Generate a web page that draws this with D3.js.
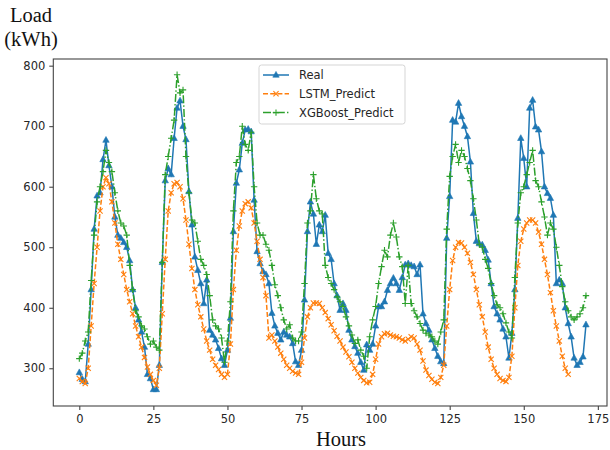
<!DOCTYPE html>
<html>
<head>
<meta charset="utf-8">
<script src="https://cdn.jsdelivr.net/npm/d3@7"></script>
<style>
  body { margin: 0; background: #fff; }
  .tick text { font-family: "DejaVu Sans", sans-serif; font-size: 11.5px; fill: #262626; }
  .tick line { stroke: #333; }
</style>
</head>
<body>
<svg id="chart"></svg>
<script>
// hourly load readings, index = hour
const realLoad = [
  293, 282, 278, 340, 430, 530, 585, 590, 645, 677,
  635, 600, 550, 520, 515, 508, 500, 478, 430, 400,
  380, 360, 335, 290, 283, 265, 265, 305, 475, 610,
  630, 620, 680, 730, 742, 700, 678, 592, 537, 484,
  462, 440, 407, 446, 363, 355, 347, 333, 316, 305,
  330, 383, 526, 606, 628, 672, 694, 695, 691, 578,
  493, 473, 460, 455, 440, 391, 370, 358, 347, 360,
  355, 352, 341, 311, 305, 330, 413, 526, 575, 555,
  505, 537, 526, 553, 490, 480, 440, 420, 396, 407,
  396, 363, 347, 336, 325, 310, 297, 339, 330, 340,
  370, 402, 402, 410, 429, 440, 449, 440, 429, 450,
  471, 473, 470, 468, 455, 471, 390, 374, 363, 347,
  333, 320, 311, 308, 515, 584, 710, 707, 738, 716,
  700, 683, 641, 556, 510, 506, 504, 495, 479, 440,
  402, 390, 380, 365, 352, 317, 358, 430, 548, 680,
  647, 600, 730, 743, 699, 694, 658, 600, 589, 581,
  553, 440, 446, 440, 400, 374, 352, 317, 305, 310,
  319, 372
];

const lstmLoad = [
  283, 278, 275, 300, 370, 440, 500, 560, 600, 615,
  605, 575, 540, 505, 480, 455, 430, 410, 390, 370,
  352, 335, 318, 302, 290, 280, 272, 300, 390, 480,
  560, 590, 605, 607, 600, 580, 545, 505, 465, 430,
  405, 385, 365, 345, 330, 315, 305, 298, 290, 285,
  290, 340, 430, 495, 535, 560, 572, 575, 565, 540,
  510, 480, 450, 420, 350, 355, 345, 335, 325, 315,
  305, 300, 295, 292, 290, 310, 350, 385, 400, 408,
  408, 407, 400, 392, 382, 372, 362, 353, 345, 335,
  327, 319, 310, 300, 292, 285, 280, 276, 277, 290,
  315, 340, 352, 357, 358, 355, 353, 352, 350, 347,
  345, 348, 352, 350, 340, 330, 312, 297, 288, 282,
  277, 275, 285, 305, 370, 430, 478, 500, 508, 507,
  500, 490, 475, 455, 430, 405, 385, 360, 335, 315,
  300, 290, 283, 280, 278, 285, 320, 400, 470, 510,
  530, 540, 545, 545, 540, 525, 505, 480, 455, 425,
  395, 370, 345, 320, 300, 290
];

const xgbLoad = [
  316, 325, 345, 360, 445, 520, 575, 600, 625, 660,
  640, 625, 590, 560, 540, 535, 520, 470, 430, 395,
  385, 370, 365, 352, 340, 345, 335, 330, 475, 620,
  650, 680, 710, 785, 755, 760, 650, 590, 545, 540,
  510, 480, 470, 455, 420, 380, 370, 365, 350, 310,
  345, 410, 560, 640, 650, 700, 670, 660, 690, 600,
  540, 520, 520, 505, 495, 470, 438, 420, 400, 380,
  365, 372, 350, 345, 345, 360, 440, 540, 560, 620,
  580, 560, 555, 470, 450, 440, 430, 418, 410, 402,
  385, 370, 355, 341, 347, 330, 320, 300, 352, 380,
  402, 440, 468, 495, 484, 520, 540, 517, 484, 468,
  407, 470, 407, 395, 385, 374, 363, 358, 355, 352,
  345, 340, 360, 380, 530, 617, 650, 670, 640, 660,
  650, 630, 610, 580, 545, 505, 500, 480, 465, 440,
  420, 405, 400, 390, 375, 360, 350, 450, 540, 590,
  600, 620, 640, 660, 610, 600, 575, 550, 520, 540,
  530, 500, 470, 435, 410, 395, 385, 380, 385, 390,
  400, 420
];

const xTicks = [0, 25, 50, 75, 100, 125, 150, 175];
const yTicks = [300, 400, 500, 600, 700, 800];
const seriesNames = ['Real', 'LSTM_Predict', 'XGBoost_Predict'];

const width = 610;
const height = 450;
const plot = { left: 53.3, right: 607, top: 59, bottom: 406 };

const svg = d3.select('#chart')
  .attr('width', width)
  .attr('height', height);

const x = d3.scaleLinear().domain([-8.78, 178.1]).range([plot.left, plot.right]);
const y = d3.scaleLinear().domain([237.7, 811]).range([plot.bottom, plot.top]);

svg.append('defs').append('clipPath').attr('id', 'clip')
  .append('rect')
  .attr('x', plot.left).attr('y', plot.top)
  .attr('width', plot.right - plot.left).attr('height', plot.bottom - plot.top);

// axes
const xAxis = svg.append('g')
  .attr('transform', `translate(0,${plot.bottom})`)
  .call(d3.axisBottom(x).tickValues(xTicks).tickSize(4).tickPadding(5));
const yAxis = svg.append('g')
  .attr('transform', `translate(${plot.left},0)`)
  .call(d3.axisLeft(y).tickValues(yTicks).tickSize(4).tickPadding(4));
xAxis.select('.domain').remove();
yAxis.select('.domain').remove();

svg.append('rect')
  .attr('x', plot.left).attr('y', plot.top)
  .attr('width', plot.right - plot.left).attr('height', plot.bottom - plot.top)
  .attr('fill', 'none').attr('stroke', '#444').attr('stroke-width', 1.1);

const series = [
  { name: seriesNames[0], values: realLoad, color: '#1f77b4', dash: null, marker: 'tri' },
  { name: seriesNames[1], values: lstmLoad, color: '#ff7f0e', dash: '5,2.2', marker: 'x' },
  { name: seriesNames[2], values: xgbLoad, color: '#2ca02c', dash: '8,2.2,1.4,2.2', marker: 'plus' }
];

function drawMarker(g, kind, color) {
  if (kind === 'tri') {
    g.append('path').attr('d', 'M0,-3.6L3.2,2.2L-3.2,2.2Z').attr('fill', color).attr('stroke', color).attr('stroke-width', 0.6);
  } else if (kind === 'x') {
    g.append('path').attr('d', 'M-2.6,-2.6L2.6,2.6M-2.6,2.6L2.6,-2.6').attr('stroke', color).attr('stroke-width', 1.1).attr('fill', 'none');
  } else {
    g.append('path').attr('d', 'M-3.2,0L3.2,0M0,-3.2L0,3.2').attr('stroke', color).attr('stroke-width', 1.1).attr('fill', 'none');
  }
}

const line = d3.line().x((d, i) => x(i)).y(d => y(d));
const plotG = svg.append('g').attr('clip-path', 'url(#clip)');

series.forEach(s => {
  const g = plotG.append('g');
  g.append('path')
    .datum(s.values)
    .attr('d', line)
    .attr('fill', 'none')
    .attr('stroke', s.color)
    .attr('stroke-width', 1.5)
    .attr('stroke-dasharray', s.dash);
  g.selectAll('g.pt').data(s.values).enter().append('g')
    .attr('class', 'pt')
    .attr('transform', (d, i) => `translate(${x(i)},${y(d)})`)
    .each(function () { drawMarker(d3.select(this), s.marker, s.color); });
});

// legend
const legend = svg.append('g').attr('transform', 'translate(259,65)');
legend.append('rect')
  .attr('width', 146).attr('height', 59).attr('rx', 2.5)
  .attr('fill', '#fff').attr('fill-opacity', 0.8)
  .attr('stroke', '#d5d5d5').attr('stroke-width', 1);
series.forEach((s, i) => {
  const row = legend.append('g').attr('transform', `translate(0,${10 + i * 18.8})`);
  row.append('line')
    .attr('x1', 4).attr('x2', 30)
    .attr('stroke', s.color).attr('stroke-width', 1.5)
    .attr('stroke-dasharray', s.dash);
  drawMarker(row.append('g').attr('transform', 'translate(17,0)'), s.marker, s.color);
  row.append('text')
    .attr('x', 40).attr('y', 4)
    .attr('font-family', 'DejaVu Sans, sans-serif')
    .attr('font-size', 11.5)
    .attr('fill', '#262626')
    .text(s.name);
});

// axis titles
svg.append('text')
  .attr('x', 31).attr('y', 22)
  .attr('text-anchor', 'middle')
  .attr('font-family', 'Liberation Serif, serif')
  .attr('font-size', 20.5)
  .attr('fill', '#111')
  .text('Load');
svg.append('text')
  .attr('x', 31).attr('y', 46)
  .attr('text-anchor', 'middle')
  .attr('font-family', 'Liberation Serif, serif')
  .attr('font-size', 20.5)
  .attr('fill', '#111')
  .text('(kWh)');
svg.append('text')
  .attr('x', 341).attr('y', 446)
  .attr('text-anchor', 'middle')
  .attr('font-family', 'Liberation Serif, serif')
  .attr('font-size', 20.5)
  .attr('fill', '#111')
  .text('Hours');
</script>
</body>
</html>
